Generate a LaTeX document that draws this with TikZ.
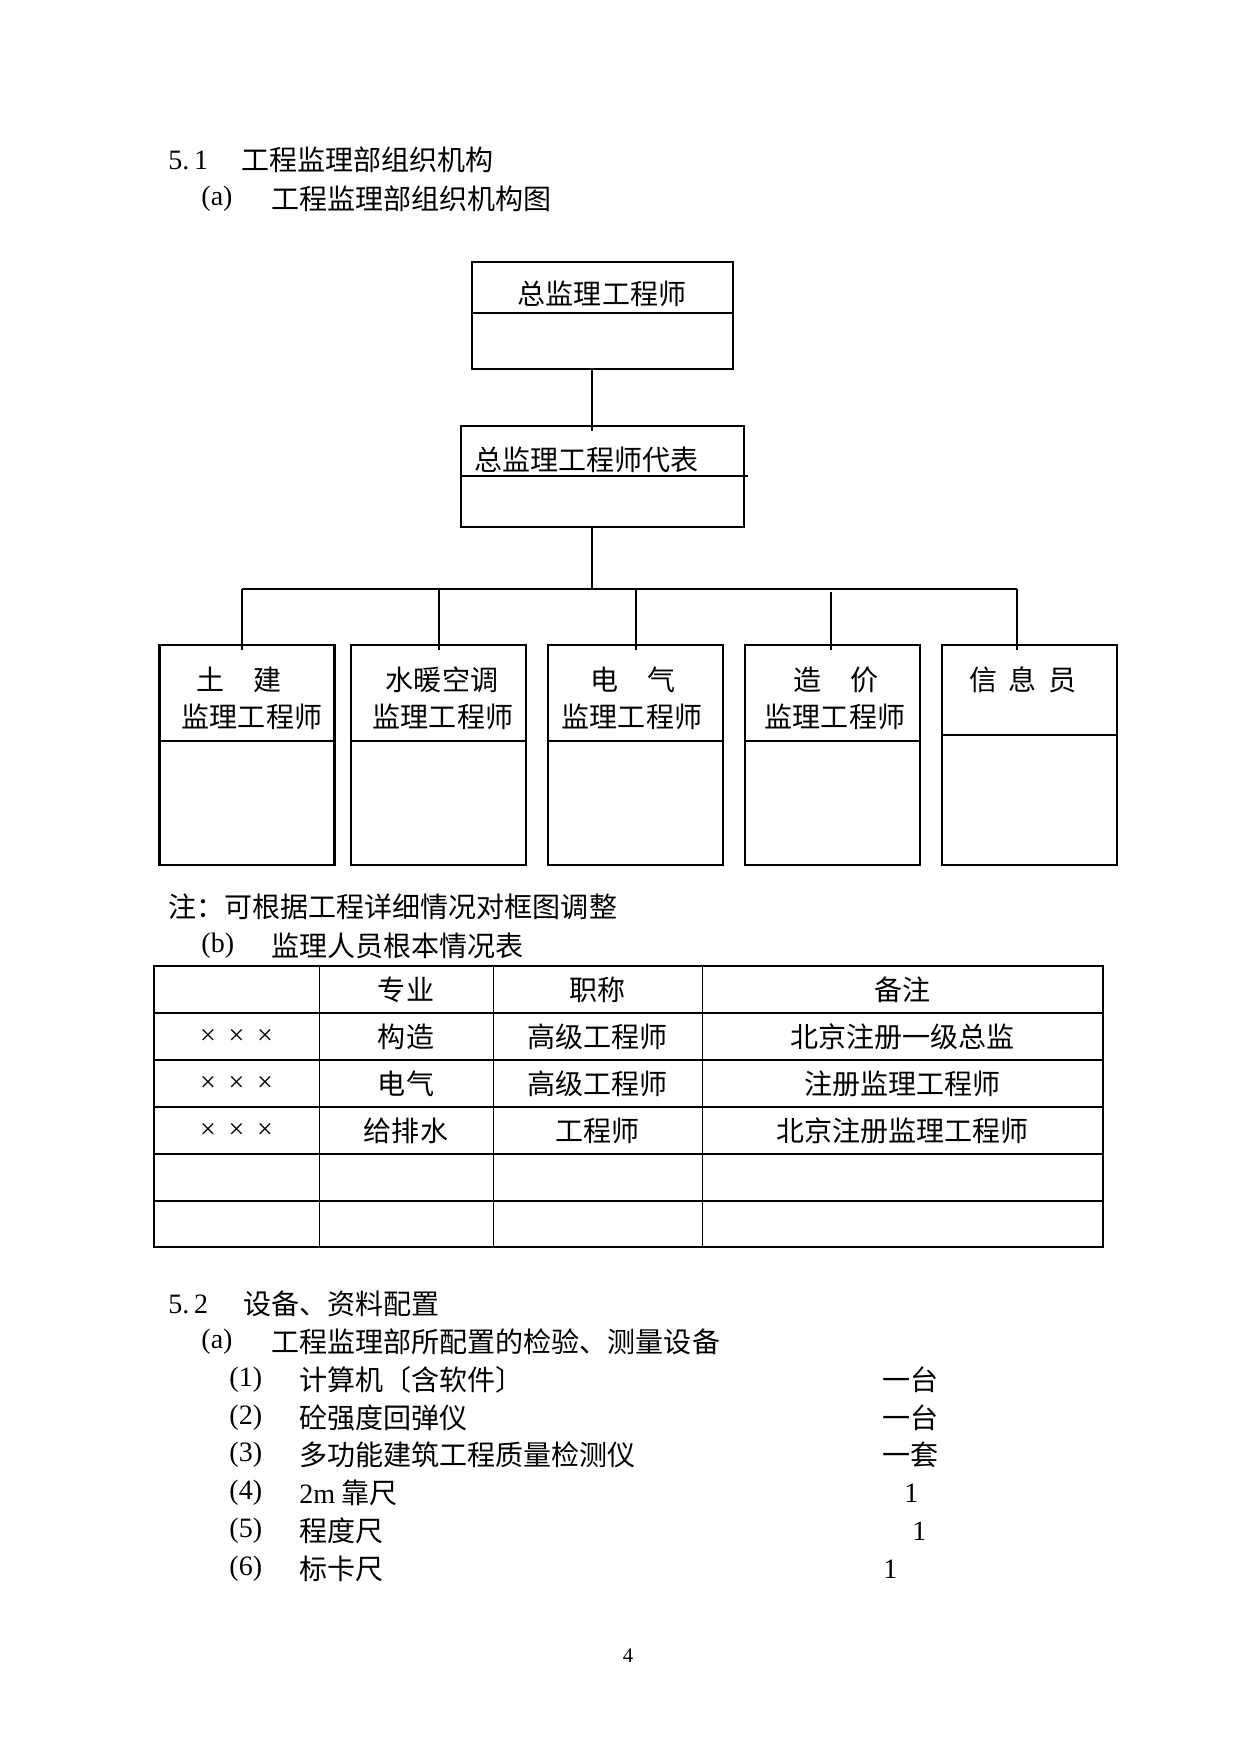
\documentclass[tikz,border=0pt]{standalone}
\usepackage{fontspec}
\setmainfont{Noto Sans CJK SC}
\newfontfamily\latin{Liberation Serif}
\usetikzlibrary{positioning}
\newcommand\pxw{0.016922cm}
\newcommand\xxx{{\latin ×\hspace{0.45em}×\hspace{0.45em}×}}

\begin{document}
\begin{tikzpicture}[x=0.016922cm, y=-0.016922cm,
  box/.style={draw, line width=1pt, inner sep=0pt},
  thinbox/.style={draw, line width=0.5pt, inner sep=0pt},
  member/.style={box, minimum width=175*\pxw, minimum height=220*\pxw},
  conn/.style={line width=1pt},
  txt/.style={inner sep=0pt, font=\fontsize{13.5}{16}\selectfont},
  lft/.style={txt, anchor=west},
  small/.style={inner sep=0pt, font=\latin\fontsize{10}{12}\selectfont}]
  \useasboundingbox (0,0) rectangle (1241,1754);

  % headings
  \node[lft] (h51) at (168,160) {{\latin 5.\,1}};
  \node[lft] (h51t) at (241,160) {工程监理部组织机构};
  \node[lft] (ha) at (201,199) {{\latin (a)}};
  \node[lft] (hat) at (271,199) {工程监理部组织机构图};

  % chart boxes
  \node[box, minimum width=261*\pxw, minimum height=107*\pxw] (chief) at (602.5,315.5) {};
  \node[box, minimum width=283*\pxw, minimum height=101*\pxw] (rep) at (602.5,476.5) {};
  \draw[conn] (chief.west |- 0,313) -- (chief.east |- 0,313);
  \draw[conn] (rep.west |- 0,476) -- ([xshift=3*\pxw]rep.east |- 0,476);
  \node[txt] (chiefl) at (602,294) {总监理工程师};
  \node[lft] (repl) at (474,460) {总监理工程师代表};

  \node[member] (civil) at (247,755) {};
  \node[member] (hvac) at (438.5,755) {};
  \node[member] (elec) at (635.5,755) {};
  \node[member] (cost) at (832.5,755) {};
  \node[thinbox, minimum width=175*\pxw, minimum height=220*\pxw] (info) at (1029.5,755) {};
  \foreach \b in {civil,hvac,elec,cost}
    \draw[conn] (\b.west |- 0,741) -- (\b.east |- 0,741);
  \draw[line width=0.5pt] (info.west |- 0,735) -- (info.east |- 0,735);

  \node[txt] (civila) at (239,680) {土　建};
  \node[txt] (civilb) at (252,717) {监理工程师};
  \node[txt] (hvaca) at (442,680) {水暖空调};
  \node[txt] (hvacb) at (443,717) {监理工程师};
  \node[txt] (eleca) at (633,680) {电　气};
  \node[txt] (elecb) at (632,717) {监理工程师};
  \node[txt] (costa) at (836,680) {造　价};
  \node[txt] (costb) at (835,717) {监理工程师};
  \node[txt] (infoa) at (1023,680) {信\hspace{0.4em}息\hspace{0.4em}员};

  % connectors
  \coordinate (trunk) at (592,369);
  \coordinate (busL) at (242,589);
  \coordinate (busR) at (1017,589);
  \coordinate (dB) at (439,589);
  \coordinate (dC) at (636,589);
  \coordinate (dD) at (831,592);
  \draw[conn] (trunk |- chief.south) -- ([yshift=-6*\pxw]trunk |- rep.north);
  \draw[conn] (trunk |- rep.south) -- (trunk |- busL);
  \draw[conn] (busL) -- (busR);
  \draw[conn] (busL) -- ([yshift=-6*\pxw]busL |- civil.north);
  \draw[conn] (dB) -- ([yshift=-6*\pxw]dB |- hvac.north);
  \draw[conn] (dC) -- ([yshift=-6*\pxw]dC |- elec.north);
  \draw[line width=0.5pt] (dD) -- ([yshift=-6*\pxw]dD |- cost.north);
  \draw[conn] (busR) -- ([yshift=-6*\pxw]busR |- info.north);

  % note and table
  \node[lft] (note) at (168,907) {注：可根据工程详细情况对框图调整};
  \node[lft] (hb) at (201,946) {{\latin (b)}};
  \node[lft] (hbt) at (271,946) {监理人员根本情况表};

  \draw[line width=0.6pt] (154,966) rectangle (1103,1247);
  \foreach \y in {1013,1060,1107,1154,1201}
    \draw[line width=0.6pt] (154,\y) -- (1103,\y);
  \foreach \x in {319,493,702}
    \draw[line width=0.4pt] (\x,966) -- (\x,1247);

  \node[txt] (c12) at (406,989.5) {专业};
  \node[txt] (c13) at (597.5,989.5) {职称};
  \node[txt] (c14) at (902.5,989.5) {备注};
  \node[txt] (c21) at (236.5,1036.5) {\xxx};
  \node[txt] (c22) at (406,1036.5) {构造};
  \node[txt] (c23) at (597.5,1036.5) {高级工程师};
  \node[txt] (c24) at (902.5,1036.5) {北京注册一级总监};
  \node[txt] (c31) at (236.5,1083.5) {\xxx};
  \node[txt] (c32) at (406,1083.5) {电气};
  \node[txt] (c33) at (597.5,1083.5) {高级工程师};
  \node[txt] (c34) at (902.5,1083.5) {注册监理工程师};
  \node[txt] (c41) at (236.5,1130.5) {\xxx};
  \node[txt] (c42) at (406,1130.5) {给排水};
  \node[txt] (c43) at (597.5,1130.5) {工程师};
  \node[txt] (c44) at (902.5,1130.5) {北京注册监理工程师};

  % equipment
  \node[lft] (h52) at (168,1304) {{\latin 5.\,2}};
  \node[lft] (h52t) at (243,1304) {设备、资料配置};
  \node[lft] (ha2) at (201,1342) {{\latin (a)}};
  \node[lft] (ha2t) at (271,1342) {工程监理部所配置的检验、测量设备};

  \node[lft] (n1) at (229,1380) {{\latin (1)}};
  \node[lft] (i1) at (299,1380) {计算机〔含软件〕};
  \node[lft] (q1) at (882,1380) {一台};
  \node[lft] (n2) at (229,1418) {{\latin (2)}};
  \node[lft] (i2) at (299,1418) {砼强度回弹仪};
  \node[lft] (q2) at (882,1418) {一台};
  \node[lft] (n3) at (229,1455) {{\latin (3)}};
  \node[lft] (i3) at (299,1455) {多功能建筑工程质量检测仪};
  \node[lft] (q3) at (882,1455) {一套};
  \node[lft] (n4) at (229,1493) {{\latin (4)}};
  \node[lft] (i4) at (299,1493) {{\latin 2m} 靠尺};
  \node[lft] (q4) at (904,1493) {{\latin 1}};
  \node[lft] (n5) at (229,1531) {{\latin (5)}};
  \node[lft] (i5) at (299,1531) {程度尺};
  \node[lft] (q5) at (912,1531) {{\latin 1}};
  \node[lft] (n6) at (229,1569) {{\latin (6)}};
  \node[lft] (i6) at (299,1569) {标卡尺};
  \node[lft] (q6) at (883,1569) {{\latin 1}};

  \node[small] (page) at (628,1656) {4};
\end{tikzpicture}
\end{document}
